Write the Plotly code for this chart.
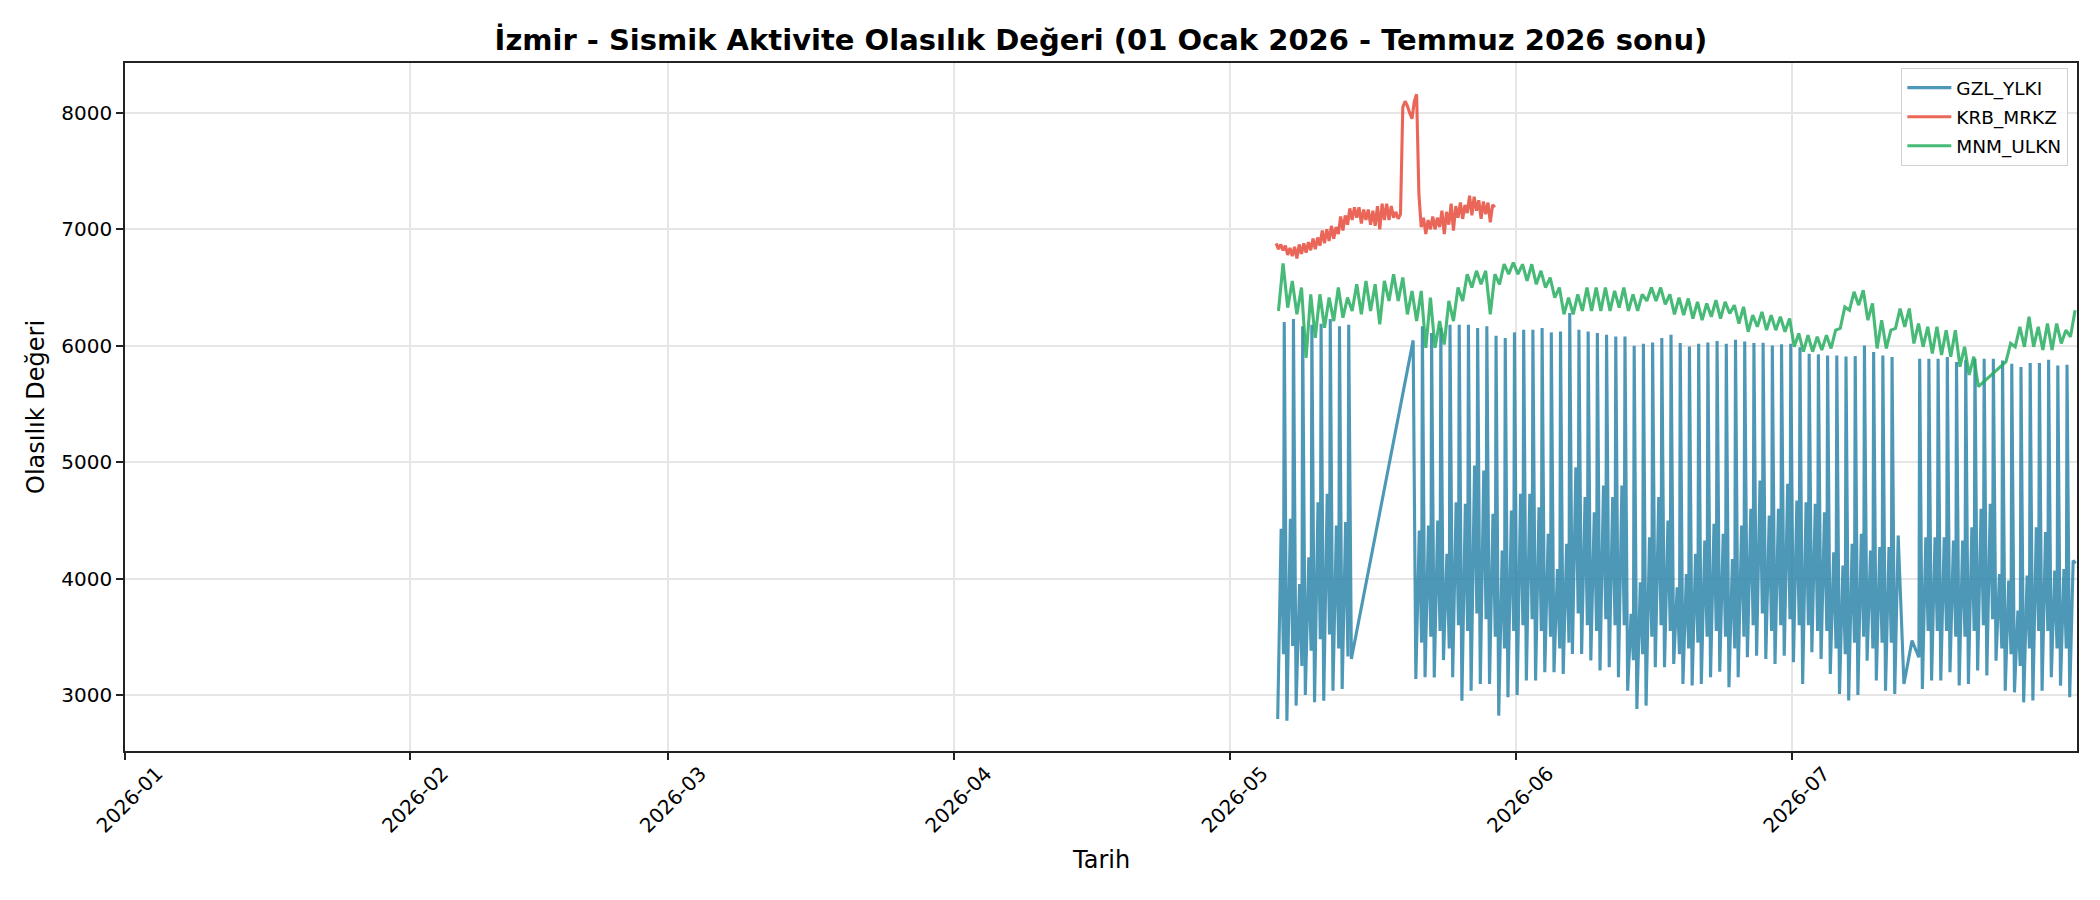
import datetime as dt
import plotly.graph_objects as go

# --- data ------------------------------------------------------------------

# GZL_YLKI: one cycle per day -> trough, mid bump, dip, tall spike
GZL_HOURS = (4, 13, 19, 21)

gzl_seg1_start = "2026-05-06"
gzl_seg1_low = [2794, 2780, 2909, 3000, 2937, 2950, 3037, 3052, 3310]
gzl_seg1_mid = [4427, 4513, 3954, 4184, 4656, 4728, 4456, 4485, None]
gzl_seg1_dip = [3350, 3420, 3250, 3380, 3480, 3520, 3400, 3330, None]
gzl_seg1_peak = [6204, 6230, 6167, 6181, 6190, 6230, 6167, 6181, None]

gzl_seg2_start = "2026-05-20"
gzl_seg2_low = [None, 3138, 3152, 3150, 3300, 3152, 2950, 3037, 3095, 3095, 2823, 2980,
                3000, 3124, 3124, 3195, 3195, 3181, 3353, 3353, 3296, 3210, 3238, 3152,
                3037, 2880, 2909, 3238, 3238, 3267, 3095, 3081, 3095, 3152, 3200, 3066,
                3152, 3324, 3338, 3310, 3267, 3338,
                3281, 3095, 3367, 3310, 3181, 3009, 2952, 3000, 3295, 3124, 3037, 3009]
gzl_seg2_mid = [None, 4413, 4456, 4499, 4212, 4656, 4642, 4971, 4928, 4556, 4241, 4585,
                4728, 4728, 4613, 4384, 4083, 4298, 4957, 4700, 4570, 4800, 4700, 4800,
                3697, 3969, 4355, 4700, 4499, 3926, 4040, 4212, 4327, 4470, 4384, 4169,
                4456, 4599, 4843, 4542, 4599, 4814,
                4671, 4656, 4642, 4570, 4227, 4112, 4298, 4384, 4241, 4270, 4270, 4370]
gzl_seg2_dip = [None, 3450, 3500, 3550, 3400, 3600, 3550, 3700, 3650, 3500, 3400, 3550,
                3600, 3650, 3550, 3500, 3400, 3450, 3700, 3600, 3550, 3650, 3600, 3600,
                3300, 3350, 3500, 3600, 3550, 3350, 3400, 3450, 3500, 3550, 3500, 3400,
                3500, 3600, 3700, 3550, 3600, 3650,
                3600, 3600, 3550, 3550, 3400, 3350, 3450, 3500, 3400, 3450, 3450, None]
gzl_seg2_peak = [6046, 6167, 6110, 6152, 6181, 6181, 6181, 6152, 6167, 6086, 6066, 6115,
                 6138, 6138, 6152, 6115, 6123, 6282, 6138, 6123, 6109, 6095, 6080, 6080,
                 6000, 6017, 6029, 6066, 6095, 6023, 5994, 6017, 6029, 6040, 6017, 6052,
                 6037, 6023, 6026, 6003, 6014, 6017,
                 5988, 5931, 5926, 5917, 5917, 5908, 5911, 6003, 5946, 5917, 5903, None]

gzl_gap_x = ["2026-07-13 04:00", "2026-07-14 01:00", "2026-07-14 19:00"]
gzl_gap_y = [3095, 3467, 3324]

gzl_seg3_start = "2026-07-14"
gzl_seg3_low = [None, 3052, 3124, 3124, 3195, 3081, 3095, 3210, 3167, 3295, 3037, 3023,
                2937, 2952, 3037, 3152, 3081, 2980]
gzl_seg3_mid = [None, 4355, 4355, 4355, 4327, 4327, 4441, 4599, 4642, 4040, 3983, 3725,
                4026, 4441, 4399, 4069, 4083, 4155]
gzl_seg3_dip = [None, 3550, 3550, 3550, 3500, 3500, 3550, 3600, 3650, 3400, 3350, 3250,
                3400, 3550, 3550, 3400, 3400, 4130]
gzl_seg3_peak = [5888, 5888, 5888, 5903, 5860, 5880, 5888, 5888, 5888, 5874, 5845, 5817,
                 5851, 5851, 5880, 5831, 5837, None]

# KRB_MRKZ: 6-hourly values (00, 06, 12, 18) from 6 May
KRB_HOURS = (0, 6, 12, 18)
krb_start = "2026-05-06"
krb_values = [
    6880, 6830, 6870, 6820,  6860, 6780, 6840, 6770,  6850, 6750, 6870, 6790,
    6880, 6800, 6890, 6820,  6920, 6830, 6930, 6860,  6990, 6880, 7000, 6900,
    7030, 6920, 7020, 6960,  7110, 6990, 7120, 7040,  7180, 7080, 7190, 7100,
    7190, 7050, 7170, 7080,  7170, 7040, 7160, 7030,  7200, 7000, 7220, 7080,
    7220, 7080, 7200, 7100,  7150, 7090, 7130, 8050,  8100, 8060, 8000, 7950,
    8100, 8160, 7300, 7020,  7100, 6960, 7080, 7000,  7110, 7000, 7100, 7020,
    7160, 6960, 7150, 7040,  7220, 6990, 7200, 7100,  7230, 7090, 7210, 7140,
    7290, 7120, 7280, 7160,  7250, 7090, 7240, 7130,  7230, 7060, 7210, 7190,
]

# MNM_ULKN: daily low (morning) and high (evening) from 6 May
MNM_HOURS = (6, 18)
mnm_start = "2026-05-06"
mnm_low = [6300, 6327, 6270, 5896, 6069, 6155, 6212, 6241, 6299, 6270, 6299, 6184, 6385,
           6385, 6270, 6212, 5982, 5982, 6011, 6212, 6385, 6500, 6528, 6270, 6528, 6615,
           6615, 6557, 6528, 6500, 6414, 6270, 6270, 6299, 6299, 6299, 6299, 6327, 6299,
           6299, 6385, 6385, 6356, 6270, 6263, 6234, 6220, 6249, 6234, 6277, 6191, 6120,
           6163, 6134, 6134, 6120,
           5991, 5949, 5949, 5963, 5977, 6149, 6306, 6349, 6220, 5977, 5977, 6149, 6163,
           6020, 5991, 5934, 5920, 5906, 5820, 5749, 5649, None, None, 5863, 5991, 5991,
           5991, 5963, 5963, 6020, 6077]
mnm_high = [6707, 6557, 6500, 6442, 6442, 6414, 6500, 6414, 6528, 6557, 6528, 6557, 6615,
            6586, 6471, 6471, 6414, 6212, 6385, 6500, 6615, 6644, 6644, 6615, 6701, 6715,
            6700, 6700, 6644, 6586, 6500, 6414, 6442, 6500, 6500, 6500, 6471, 6500, 6442,
            6442, 6500, 6500, 6442, 6414, 6406, 6377, 6363, 6391, 6377, 6349, 6334, 6263,
            6291, 6263, 6249, 6234,
            6106, 6091, 6077, 6091, 6134, 6334, 6463, 6477, 6363, 6220, 6134, 6320, 6320,
            6191, 6163, 6163, 6134, 6134, 5991, 5906, None, None, None, 6020, 6163, 6249,
            6163, 6191, 6191, 6134, 6306]

y_ticks = [3000, 4000, 5000, 6000, 7000, 8000]

COLORS = {"GZL_YLKI": "#2E86AB", "KRB_MRKZ": "#E74C3C", "MNM_ULKN": "#27AE60"}
FONT = "DejaVu Sans"

# the page body has an 8px default margin, so the figure is drawn 8px smaller
W, H = 2092, 892


def daily_points(start, columns, hours):
    xs, ys = [], []
    day0 = dt.datetime.fromisoformat(start)
    for i, vals in enumerate(zip(*columns)):
        for h, v in zip(hours, vals):
            if v is not None:
                xs.append(day0 + dt.timedelta(days=i, hours=h))
                ys.append(v)
    return xs, ys


def gzl_series():
    x1, y1 = daily_points(gzl_seg1_start, [gzl_seg1_low, gzl_seg1_mid, gzl_seg1_dip, gzl_seg1_peak], GZL_HOURS)
    x2, y2 = daily_points(gzl_seg2_start, [gzl_seg2_low, gzl_seg2_mid, gzl_seg2_dip, gzl_seg2_peak], GZL_HOURS)
    xg = [dt.datetime.fromisoformat(s) for s in gzl_gap_x]
    x3, y3 = daily_points(gzl_seg3_start, [gzl_seg3_low, gzl_seg3_mid, gzl_seg3_dip, gzl_seg3_peak], GZL_HOURS)
    return x1 + x2 + xg + x3, y1 + y2 + gzl_gap_y + y3


def krb_series():
    rows = [krb_values[i:i + 4] for i in range(0, len(krb_values), 4)]
    return daily_points(krb_start, list(zip(*rows)), KRB_HOURS)


def mnm_series():
    return daily_points(mnm_start, [mnm_low, mnm_high], MNM_HOURS)


fig = go.Figure()
for name, (xs, ys) in [("GZL_YLKI", gzl_series()), ("KRB_MRKZ", krb_series()), ("MNM_ULKN", mnm_series())]:
    fig.add_trace(go.Scatter(x=xs, y=ys, mode="lines", name=name, legendgroup=name,
                             line=dict(color=COLORS[name], width=3.1), opacity=0.85))

axis_style = dict(showline=True, linecolor="#222222", linewidth=1.7, mirror=True,
                  ticks="outside", ticklen=7, tickwidth=1.6, tickcolor="#222222",
                  showgrid=True, gridcolor="#e6e6e6", gridwidth=1.6, zeroline=False,
                  automargin=False, tickfont=dict(family=FONT, size=20, color="black"))

fig.update_xaxes(range=["2026-01-01", "2026-07-31 23:00"], dtick="M1", tickformat="%Y-%m",
                 tick0="2026-01-01", tickangle=-45, ticklabelshift=32, ticklabelstandoff=-6,
                 **axis_style)
fig.update_yaxes(range=[2519, 8429], tickvals=y_ticks, tickformat="d", **axis_style)

fig.update_layout(
    width=W, height=H,
    margin=dict(l=117, r=23, t=55, b=149),
    paper_bgcolor="white", plot_bgcolor="white",
    font=dict(family=FONT, color="black"),
    title=dict(text="İzmir - Sismik Aktivite Olasılık Değeri (01 Ocak 2026 - Temmuz 2026 sonu)",
               x=1093 / W, xanchor="center", y=1 - 32 / H, yanchor="middle",
               font=dict(family=FONT, size=29, color="black", weight="bold")),
    legend=dict(x=0.9954, xanchor="right", y=0.993, yanchor="top",
                traceorder="grouped", tracegroupgap=2,
                bgcolor="rgba(255,255,255,0.8)", bordercolor="#d0d0d0", borderwidth=1.3,
                font=dict(family=FONT, size=18.5, color="black"), itemwidth=44),
    annotations=[
        dict(text="Tarih", xref="paper", yref="paper", x=0.5, y=0, yshift=-109,
             showarrow=False, font=dict(family=FONT, size=24, color="black"),
             xanchor="center", yanchor="middle"),
        dict(text="Olasılık Değeri", xref="paper", yref="paper", x=0, y=0.5, xshift=-89,
             textangle=-90, showarrow=False, font=dict(family=FONT, size=24, color="black"),
             xanchor="center", yanchor="middle"),
    ],
)

fig.write_html("out.html")
